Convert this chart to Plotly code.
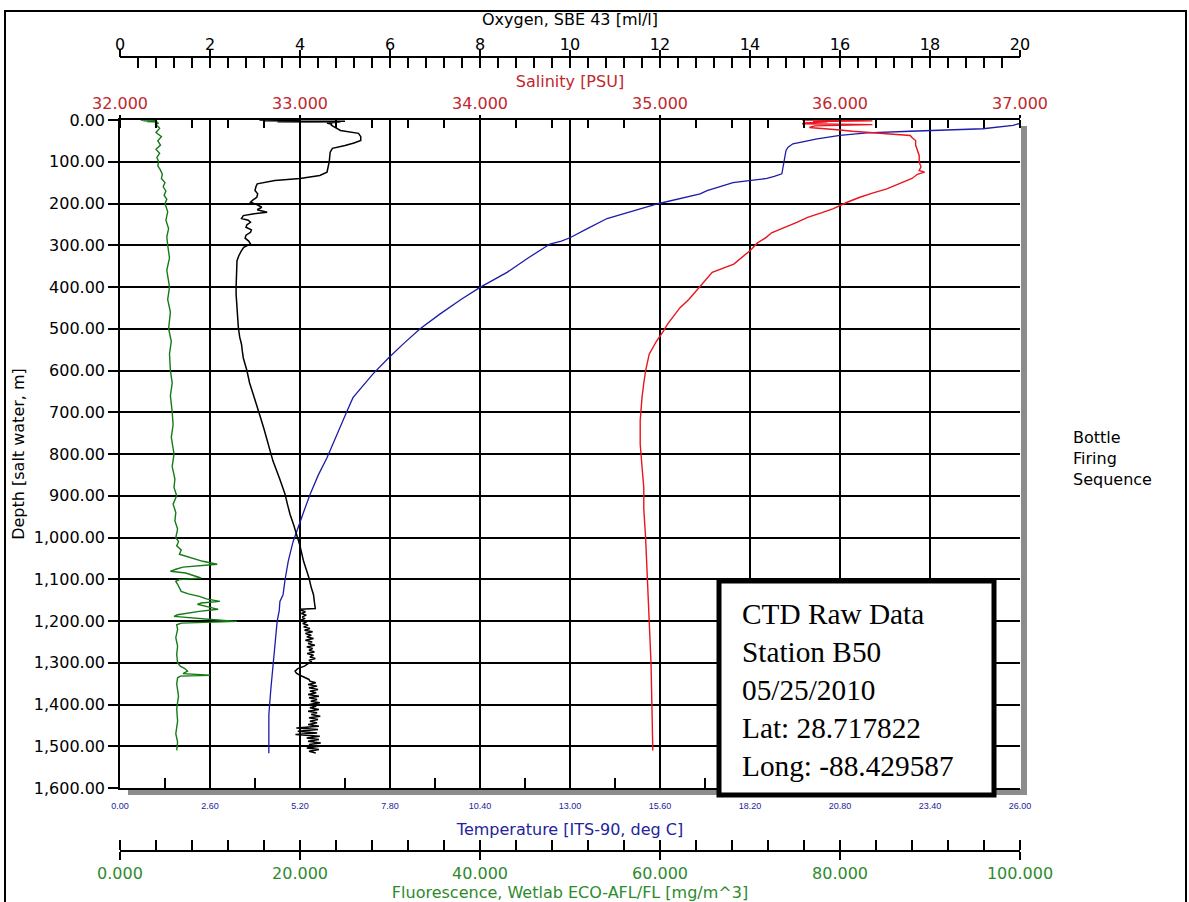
import plotly.graph_objects as go

# ---------------- data ----------------
fluor_depth = [0, 1, 2, 3, 4, 5, 6, 8, 10, 15, 20, 30, 40, 50, 60, 70, 80, 90, 100, 110,
               120, 130, 140, 150, 160, 170, 180, 190, 200, 220, 240, 260, 280, 300, 330, 360,
               400, 430, 460, 500, 530, 560, 600, 630, 660, 700, 730, 760, 800, 830, 860, 880,
               900, 920, 940, 960, 980, 1000, 1010, 1020, 1030, 1040, 1050, 1057, 1064, 1068,
               1071, 1076, 1081, 1085, 1088, 1093, 1097, 1101, 1105, 1112, 1120, 1129, 1135,
               1141, 1147, 1153, 1157, 1160, 1166, 1172, 1177, 1181, 1185, 1189, 1193, 1197,
               1201, 1205, 1209, 1220, 1240, 1260, 1280, 1300, 1308, 1314, 1320, 1326, 1330,
               1332, 1336, 1350, 1380, 1410, 1440, 1470, 1490, 1510]
fluor_val = [2.3, 4.0, 2.6, 4.1, 3.0, 4.2, 3.9, 4.3, 3.9, 4.2, 4.4, 4.0, 4.6, 4.2, 4.5, 4.0, 4.4, 4.1, 4.3, 4.2,
             4.5, 4.7, 4.6, 5.0, 4.8, 5.1, 4.9, 5.2, 5.0, 5.3, 5.1, 5.4, 5.2, 5.3, 5.5, 5.2,
             5.5, 5.3, 5.6, 5.4, 5.7, 5.5, 5.6, 5.8, 5.6, 5.8, 5.9, 5.7, 6.0, 5.8, 6.1, 6.0,
             6.3, 5.9, 6.2, 6.1, 6.4, 6.2, 6.5, 6.3, 6.8, 6.6, 8.0, 9.2, 10.8, 8.5,
             7.0, 6.2, 5.6, 7.3, 7.8, 8.4, 9.0, 6.6, 6.2, 6.4, 6.6, 6.8, 7.6,
             8.8, 9.6, 11.1, 9.0, 8.6, 9.8, 10.9, 8.8, 7.8, 6.4, 6.0, 8.9, 10.5,
             13.0, 6.8, 6.3, 6.4, 6.2, 6.4, 6.3, 6.4, 6.7, 7.2, 7.5, 7.0, 10.0,
             6.7, 6.4, 6.3, 6.5, 6.3, 6.4, 6.2, 6.4, 6.3]

oxy_depth = [0, 1, 2, 3, 4, 5, 7, 10, 13, 20, 25, 32, 40, 49, 55, 61, 68, 77, 90, 100,
             115, 125, 133, 140, 145, 153, 160, 169, 177, 185, 192, 197, 203, 209, 215, 221,
             225, 229, 236, 240, 245, 251, 257, 263, 269, 276, 283, 290, 297, 305, 313, 325,
             337, 360, 377, 400, 417, 440, 457, 480, 497, 520, 537, 555, 570, 600, 630, 657,
             680, 705, 740, 777, 817, 860, 897, 920, 945, 970, 993, 1020, 1057, 1097, 1120,
             1137, 1155, 1170, 1172,
             1174, 1178, 1182, 1186, 1190, 1194, 1198, 1202, 1206, 1210, 1214, 1218, 1222,
             1226, 1230, 1234, 1238, 1242, 1246, 1250, 1254, 1258, 1262, 1266, 1270, 1274,
             1278, 1282, 1286, 1290, 1294, 1298, 1302, 1308, 1314, 1320, 1325, 1330, 1335,
             1340, 1344, 1348, 1352, 1356, 1360, 1364, 1368, 1372, 1376, 1380, 1384, 1388,
             1392, 1396, 1400, 1404, 1408, 1412, 1416, 1420, 1424, 1428, 1432, 1436, 1440,
             1444, 1448, 1452, 1456, 1460, 1464, 1468, 1472, 1476, 1480, 1484, 1488, 1492,
             1496, 1500, 1504, 1508, 1512, 1516]
oxy_val = [3.1, 4.0, 3.2, 5.0, 3.5, 4.9, 4.6, 4.7, 4.7, 4.8, 4.9, 5.3, 5.35, 5.35, 5.2, 5.0, 4.72, 4.67, 4.66, 4.65,
           4.62, 4.6, 4.44, 4.0, 3.44, 3.05, 3.02, 3.0, 3.06, 3.04, 2.95, 2.9, 3.05, 3.15, 3.05, 3.27,
           2.95, 2.74, 2.7, 2.85, 2.9, 2.82, 2.8, 2.92, 2.9, 2.8, 2.78, 2.86, 2.9, 2.75, 2.7, 2.64,
           2.6, 2.59, 2.58, 2.58, 2.58, 2.59, 2.6, 2.61, 2.63, 2.66, 2.7, 2.72, 2.74, 2.82, 2.88, 2.96,
           3.02, 3.1, 3.2, 3.3, 3.4, 3.55, 3.67, 3.72, 3.78, 3.86, 3.93, 4.0, 4.08, 4.2, 4.25,
           4.3, 4.32, 4.34, 4.0,
           4.02, 4.12, 4.03, 4.14, 4.05, 4.1, 4.02, 4.15, 4.06, 4.18, 4.08, 4.22, 4.1,
           4.28, 4.12, 4.25, 4.15, 4.3, 4.12, 4.27, 4.18, 4.33, 4.15, 4.28, 4.2, 4.32,
           4.16, 4.3, 4.22, 4.34, 4.2, 4.26, 4.18, 4.1, 3.95, 3.89, 3.92, 4.0, 4.12,
           4.2, 4.22, 4.35, 4.18, 4.38, 4.2, 4.4, 4.22, 4.36, 4.18, 4.42, 4.2, 4.38,
           4.24, 4.44, 4.2, 4.36, 4.22, 4.42, 4.18, 4.38, 4.25, 4.45, 4.2, 4.4, 4.22,
           4.38, 4.18, 4.42, 3.92, 4.4, 3.95, 4.38, 3.9, 4.44, 4.15, 4.42, 4.18, 4.46,
           4.2, 4.44, 4.15, 4.42, 4.2, 4.35]

temp_depth = [0, 8, 13, 21, 27, 31, 37, 45, 57, 65, 73, 90, 113, 129, 135, 140, 145, 150, 169,
              177, 200, 220, 236, 260, 282, 290, 297, 330, 365, 401, 430, 465, 500, 535, 569,
              608, 665, 697, 737, 770, 809, 850, 897, 940, 977, 1010, 1040, 1057, 1100, 1137,
              1153, 1175, 1201, 1250, 1305, 1361, 1424, 1470, 1517]
temp_val = [26.05, 26.0, 25.8, 24.93, 22.82, 21.58, 20.8, 20.14, 19.44, 19.3, 19.24, 19.2, 19.15,
            19.12, 18.9, 18.69, 18.17, 17.71, 16.96, 16.76, 15.57, 14.7, 14.07, 13.5, 13.0, 12.75,
            12.42, 11.8, 11.18, 10.4, 9.85, 9.24, 8.67, 8.2, 7.77, 7.31, 6.73, 6.56, 6.36, 6.18,
            5.98, 5.73, 5.49, 5.3, 5.14, 5.0, 4.91, 4.86, 4.77, 4.71, 4.62, 4.6, 4.54, 4.48, 4.42,
            4.36, 4.3, 4.29, 4.3]

sal_depth = [0, 2, 4, 5, 7, 9, 11, 14, 18, 21, 24, 27, 31, 35, 37, 42, 49, 60, 73, 85, 101,
             112, 121, 125, 130, 140, 145, 155, 165, 175, 185, 197, 205, 213, 222, 233, 245,
             260, 270, 281, 295, 313, 330, 345, 365, 380, 401, 430, 450, 473, 490, 505, 530,
             561, 601, 630, 665, 720, 776, 830, 881, 932, 1000, 1100, 1200, 1300, 1400, 1510]
sal_val = [35.79, 36.18, 35.85, 35.93, 35.8, 35.79, 36.18, 35.86, 35.83, 35.95, 36.0, 36.07,
           36.18, 36.29, 36.39, 36.4, 36.42, 36.42, 36.43, 36.44, 36.44, 36.45, 36.44, 36.47,
           36.43, 36.4, 36.37, 36.32, 36.26, 36.18, 36.11, 36.04, 36.0, 35.96, 35.9, 35.82,
           35.76, 35.67, 35.62, 35.59, 35.54, 35.5, 35.45, 35.41, 35.29, 35.26, 35.22, 35.16,
           35.11, 35.07, 35.04, 35.02, 34.98, 34.94, 34.92, 34.91, 34.9, 34.89, 34.89, 34.9,
           34.91, 34.91, 34.92, 34.93, 34.94, 34.95, 34.955, 34.96]

box_lines = ["CTD Raw Data", "Station B50", "05/25/2010", "Lat: 28.717822", "Long: -88.429587"]
side_lines = ["Bottle", "Firing", "Sequence"]

# ---------------- styling ----------------
W, H = 1189, 902
def px(x):
    return x / W
def py(y):
    return 1 - y / H

FONT = "DejaVu Sans"
RED_T, BLUE_T, GREEN_T = "#c0282d", "#23239b", "#2d8a2d"
GRID = dict(showgrid=True, gridcolor="black", gridwidth=1.6)
XDOM = [px(120), px(1020)]

fig = go.Figure()
fig.add_trace(go.Scatter(x=fluor_val, y=fluor_depth, xaxis="x5", yaxis="y", mode="lines",
                         line=dict(color="#157a15", width=1.4)))
fig.add_trace(go.Scatter(x=oxy_val, y=oxy_depth, xaxis="x3", yaxis="y", mode="lines",
                         line=dict(color="black", width=1.5)))
fig.add_trace(go.Scatter(x=temp_val, y=temp_depth, xaxis="x", yaxis="y", mode="lines",
                         line=dict(color="#1c1ca8", width=1.3)))
fig.add_trace(go.Scatter(x=sal_val, y=sal_depth, xaxis="x2", yaxis="y", mode="lines",
                         line=dict(color="#e8141e", width=1.4)))
# empty traces so the tick-only overlay axes get drawn
fig.add_trace(go.Scatter(x=[], y=[], xaxis="x4", yaxis="y"))
fig.add_trace(go.Scatter(x=[], y=[], xaxis="x6", yaxis="y"))

tickfont = dict(family=FONT, size=16, color="black")

fig.update_layout(
    width=W, height=H,
    margin=dict(l=0, r=0, t=0, b=0, pad=0),
    paper_bgcolor="white", plot_bgcolor="white",
    showlegend=False,
    font=dict(family=FONT, size=16, color="black"),
    yaxis=dict(domain=[py(788), py(120)], range=[1600, 0], dtick=100, tick0=0,
               tickformat=",.2f", ticks="outside", ticklen=10, tickwidth=1.5, tickcolor="black",
               showline=True, linecolor="black", linewidth=1.6, zeroline=False,
               tickfont=tickfont, automargin=False,
               title=dict(text="Depth [salt water, m]", font=dict(family=FONT, size=16), standoff=5),
               **GRID),
    # Temperature (bottom of plot)
    xaxis=dict(domain=XDOM, range=[0, 26], dtick=2.6, tick0=0, tickformat=".2f",
               ticks="inside", ticklen=10, tickwidth=1.5, tickcolor="black",
               minor=dict(dtick=1.3, tick0=0, ticks="inside", ticklen=10, tickwidth=1.5,
                          tickcolor="black", showgrid=False),
               showline=True, linecolor="black", linewidth=1.6, zeroline=False, mirror=False,
               tickfont=dict(family="Liberation Sans Narrow, Liberation Sans", size=9, color=BLUE_T),
               ticklabelstandoff=8, automargin=False, side="bottom", anchor="y",
               title=dict(text="Temperature [ITS-90, deg C]", font=dict(family=FONT, size=16, color=BLUE_T),
                          standoff=14),
               **GRID),
    # Salinity (top of plot)
    xaxis2=dict(domain=XDOM, range=[32, 37], dtick=1, tick0=32, tickformat=".3f",
                overlaying="x", anchor="y", side="top",
                ticks="outside", ticklen=3, tickwidth=1.5, tickcolor="black",
                minor=dict(dtick=0.2, tick0=32, ticks="inside", ticklen=8, tickwidth=1.5,
                           tickcolor="black", showgrid=False),
                showline=True, linecolor="black", linewidth=1.6, zeroline=False, showgrid=False,
                tickfont=dict(family=FONT, size=16, color=RED_T), automargin=False,
                title=dict(text="Salinity [PSU]", font=dict(family=FONT, size=16, color=RED_T), standoff=2)),
    # Oxygen (free axis above): labels + downward ticks
    xaxis3=dict(domain=XDOM, range=[0, 20], dtick=2, tick0=0,
                overlaying="x", anchor="free", position=py(57), side="top",
                ticks="inside", ticklen=10, tickwidth=1.5, tickcolor="black",
                minor=dict(dtick=0.4, tick0=0, ticks="inside", ticklen=10, tickwidth=1.5,
                           tickcolor="black", showgrid=False),
                showline=True, linecolor="black", linewidth=1.6, zeroline=False, showgrid=False,
                tickfont=tickfont, automargin=False,
                title=dict(text="Oxygen, SBE 43 [ml/l]", font=dict(family=FONT, size=16), standoff=4)),
    # upward part of the oxygen major ticks
    xaxis4=dict(domain=XDOM, range=[0, 20], dtick=2, tick0=0,
                overlaying="x", anchor="free", position=py(57), side="top",
                ticks="outside", ticklen=7, tickwidth=1.5, tickcolor="black",
                showticklabels=False, showline=False, showgrid=False, zeroline=False,
                automargin=False),
    # Fluorescence (free axis below)
    xaxis5=dict(domain=XDOM, range=[0, 100], dtick=20, tick0=0, tickformat=".3f",
                overlaying="x", anchor="free", position=py(851), side="bottom",
                ticks="outside", ticklen=8, tickwidth=1.5, tickcolor="black",
                minor=dict(dtick=4, tick0=0, ticks="inside", ticklen=10, tickwidth=1.5,
                           tickcolor="black", showgrid=False),
                showline=True, linecolor="black", linewidth=1.6, zeroline=False, showgrid=False,
                tickfont=dict(family=FONT, size=16, color=GREEN_T), automargin=False,
                title=dict(text="Fluorescence, Wetlab ECO-AFL/FL [mg/m^3]",
                           font=dict(family=FONT, size=16, color=GREEN_T), standoff=7)),
    # upward part of the fluorescence major ticks
    xaxis6=dict(domain=XDOM, range=[0, 100], dtick=20, tick0=0,
                overlaying="x", anchor="free", position=py(851), side="bottom",
                ticks="inside", ticklen=10, tickwidth=1.5, tickcolor="black",
                showticklabels=False, showline=False, showgrid=False, zeroline=False,
                automargin=False),
)

shapes = [
    # outer frame
    dict(type="rect", xref="paper", yref="paper", x0=px(5), x1=px(1186), y0=-0.02, y1=py(11),
         line=dict(color="black", width=2), fillcolor="rgba(0,0,0,0)", layer="above"),
    # drop shadow of the plot area
    dict(type="rect", xref="paper", yref="paper", x0=px(1021), x1=px(1027), y0=py(795), y1=py(126),
         line=dict(width=0), fillcolor="#8c8c8c", layer="below"),
    dict(type="rect", xref="paper", yref="paper", x0=px(128), x1=px(1027), y0=py(795), y1=py(789),
         line=dict(width=0), fillcolor="#8c8c8c", layer="below"),
    # info box
    dict(type="rect", xref="paper", yref="paper", x0=px(719), x1=px(994), y0=py(795), y1=py(581),
         line=dict(color="black", width=5), fillcolor="white", layer="above"),
]

annotations = [
    dict(xref="paper", yref="paper", x=px(740), y=py(690), xanchor="left", yanchor="middle",
         align="left", showarrow=False, text="<br>".join(box_lines),
         font=dict(family="Liberation Serif", size=29.3, color="black")),
    dict(xref="paper", yref="paper", x=px(1071), y=py(458), xanchor="left", yanchor="middle",
         align="left", showarrow=False, text="<br>".join(side_lines),
         font=dict(family=FONT, size=16, color="black")),
]
fig.update_layout(shapes=shapes, annotations=annotations)

fig.write_html("out.html", config={"displayModeBar": False},
               post_script="document.body.style.margin='0';")
